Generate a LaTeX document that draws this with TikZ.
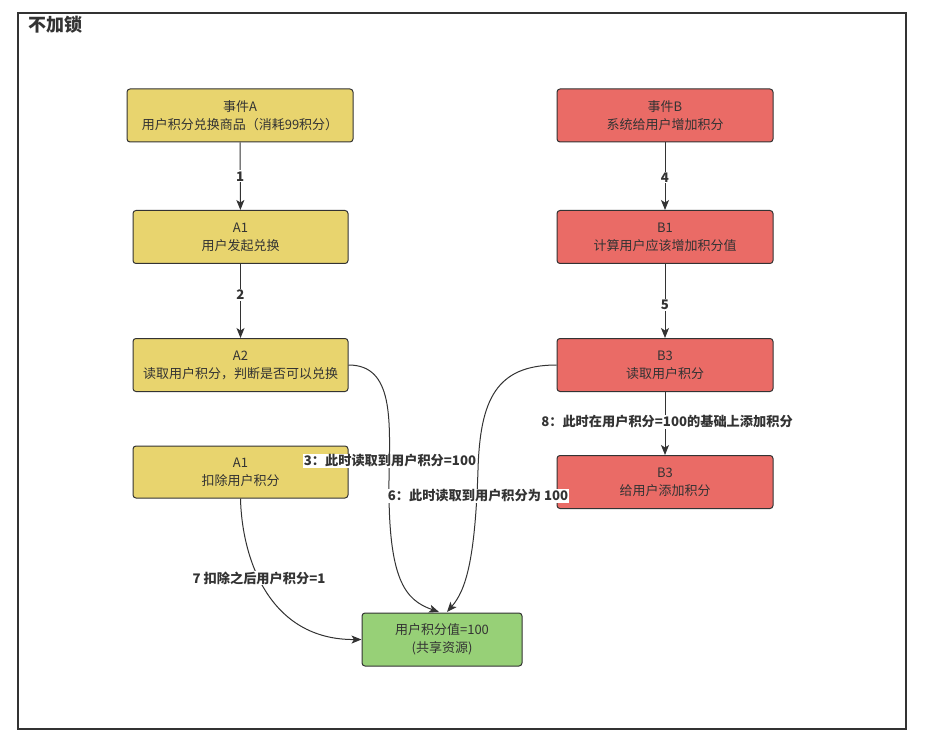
\documentclass[tikz,border=0pt]{standalone}
\usepackage{fontspec}
\setmainfont{Noto Sans CJK SC}
\usetikzlibrary{arrows.meta}
\definecolor{yel}{HTML}{E8D46E}
\definecolor{redb}{HTML}{EA6B66}
\definecolor{grn}{HTML}{97D077}
\definecolor{ink}{HTML}{333333}
\begin{document}
\begin{tikzpicture}[x=1pt,y=-1pt,
  box/.style={draw=ink,line width=1pt,rounded corners=3pt,align=center,text=ink,
    font=\fontsize{13}{18}\selectfont,inner sep=0pt},
  ybox/.style={box,fill=yel,minimum width=215pt,minimum height=53pt},
  rbox/.style={box,fill=redb,minimum width=216pt,minimum height=53pt},
  gbox/.style={box,fill=grn,minimum width=160pt,minimum height=53pt},
  conn/.style={draw=ink,line width=1pt,-{Stealth[length=10pt,width=8pt,inset=2.5pt]}},
  lbl/.style={font=\fontsize{13.2}{15}\selectfont\bfseries,text=ink,fill=white,inner sep=1pt}]
\useasboundingbox (0,0) rectangle (934,751);
\fill[white] (0,0) rectangle (934,751);
\draw[ink,line width=1.2pt] (18,13) rectangle (906,729);
\node[anchor=west,font=\fontsize{18}{20}\selectfont\bfseries,text=ink,inner sep=0pt] (title) at (28,24.5) {不加锁};
% left column
\node[ybox,minimum width=226pt] (ea) at (240,115.5) {事件A\\用户积分兑换商品（消耗99积分）};
\node[ybox] (a1) at (240.5,237) {A1\\用户发起兑换};
\node[ybox] (a2) at (240.5,365) {A2\\读取用户积分，判断是否可以兑换};
\node[ybox,minimum height=52pt] (a1d) at (240.5,472) {A1\\扣除用户积分};
% right column
\node[rbox] (eb) at (665,115.5) {事件B\\系统给用户增加积分};
\node[rbox] (b1) at (665,237) {B1\\计算用户应该增加积分值};
\node[rbox] (b3) at (665,365) {B3\\读取用户积分};
\node[rbox] (b3a) at (665,482) {B3\\给用户添加积分};
% shared
\node[gbox] (res) at (442,639.5) {用户积分值=100\\(共享资源)};
% straight connectors
\draw[conn] (ea) -- (a1) node[pos=0.5,lbl] {1};
\draw[conn] (a1) -- (a2) node[pos=0.42,lbl] {2};
\draw[conn] (eb) -- (b1) node[pos=0.52,lbl] {4};
\draw[conn] (b1) -- (b3) node[pos=0.55,lbl] {5};
\draw[conn] (b3) -- (b3a);
% curves
\coordinate (ra) at (439,612);
\coordinate (rb) at (447,612);
\draw[conn] (a2.east) .. controls (394,365) and (390,420) .. (389,480) .. controls (388,580) and (405,600) .. (ra);
\draw[conn] (b3.west) .. controls (496,365) and (480,400) .. (478,470) .. controls (475,560) and (466,590) .. (rb);
\draw[conn] (a1d.south) .. controls (242,560) and (270,640) .. (res.west);
% labels
\node[lbl] (l3) at (390,461) {3：此时读取到用户积分=100};
\node[lbl] (l6) at (478,496) {6：此时读取到用户积分为 100};
\node[lbl] (l7) at (259,578) {7 扣除之后用户积分=1};
\node[lbl] (l8) at (667,422) {8：此时在用户积分=100的基础上添加积分};
\end{tikzpicture}
\end{document}
